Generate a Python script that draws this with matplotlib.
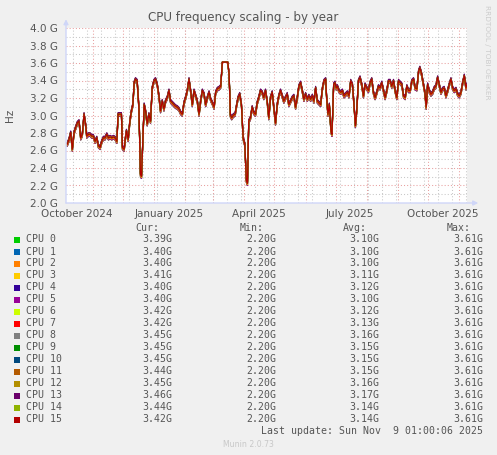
import numpy as np
import matplotlib
matplotlib.use("Agg")
import matplotlib.pyplot as plt
import matplotlib.dates as mdates
from matplotlib.patches import Rectangle
from datetime import datetime, timedelta

# ---------------- data ----------------
series_start = datetime(2024, 10, 5, 1, 0)
series_end = datetime(2025, 11, 9, 1, 0)

# days since series_start, and typical core frequency (GHz)
days = [1.3, 3, 4.7, 6.3, 8, 9.7, 11.3, 13, 14.7, 16.3, 18, 19.7, 20.7, 22.3, 24, 25.7,
        27.3, 29, 30.7, 32.3, 34, 35.7, 37.3, 39, 40.7, 42.3, 44, 45.7, 47.3, 49, 50.7,
        52, 55.3, 56.3, 58, 59.3, 60.3, 62, 63.7, 65.3, 66.7, 68, 69.3, 71, 72.7, 74.3,
        75.3, 76.7, 78, 79.3, 81, 82.7, 84.3, 86, 87.7, 89.3, 91, 92.7, 94.3, 96, 97.7,
        99.3, 101, 102.7, 104.3, 106, 107.7, 109.3, 111, 112.7, 114.3, 116, 117.7, 119.3,
        121, 122.7, 124.3, 126, 127.7, 129.3, 131, 132.7, 134.3, 136, 137.7, 139.3, 141,
        142.7, 144.3, 146, 147.7, 149.3, 151, 152.7, 154.3, 156, 161.3, 162.7, 164, 165.3,
        167, 168.7, 170.3, 171.7, 173.3, 175, 176.7, 178.3, 180, 181, 182.3, 184, 185.7,
        187.3, 189, 190.7, 192.3, 194, 195.7, 197.3, 199, 200.7, 202.3, 204, 205.7, 207.3,
        209, 210.7, 212.3, 214, 215.7, 217.3, 219, 220.7, 222.3, 224, 225.7, 227.3, 229,
        230.7, 232.3, 234, 235.7, 237.3, 239, 240.7, 242.3, 244, 245.7, 247.3, 249, 250.7,
        252.3, 254, 255.7, 257.3, 259, 260, 261.3, 262.7, 264.3, 265.3, 267, 268.3, 269.5,
        270.7, 272.3, 274, 275.7, 277.3, 279, 280.7, 282.3, 284, 285.7, 287.3, 288.7, 290,
        291.7, 293.3, 295, 296.7, 298.3, 300, 301.7, 303.3, 305, 306.7, 308.3, 310, 311.7,
        313.3, 315, 316.7, 318.3, 320, 321.7, 323.3, 325, 326.7, 328.3, 330, 331.7, 333.3,
        335, 336.7, 338.3, 340, 341.7, 343.3, 345, 346.7, 348.3, 350, 351.7, 353, 354.7,
        356.3, 358, 359.3, 360.7, 362.3, 364, 365.7, 367.3, 369, 370.7, 372.3, 374, 375.7,
        377.3, 379, 380.7, 382.3, 384, 385.7, 387.3, 389, 390.7, 392.3, 394, 395.7, 397.3,
        399, 400]
freq_ghz = [2.67, 2.72, 2.80, 2.61, 2.80, 2.86, 2.91, 2.93, 2.74, 2.78, 3.01, 2.88, 2.76,
            2.78, 2.78, 2.76, 2.76, 2.70, 2.74, 2.65, 2.63, 2.70, 2.74, 2.74, 2.78, 2.74,
            2.75, 2.74, 2.75, 2.74, 2.70, 3.01, 3.01, 2.63, 2.61, 2.74, 2.82, 2.72, 2.93,
            3.05, 3.12, 3.37, 3.41, 3.39, 3.09, 2.32, 2.30, 2.74, 3.12, 3.05, 2.90, 3.01,
            2.93, 3.31, 3.39, 3.41, 3.35, 3.22, 3.05, 3.16, 3.07, 3.16, 3.20, 3.28, 3.16,
            3.14, 3.12, 3.10, 3.09, 3.07, 3.03, 3.01, 3.14, 3.20, 3.28, 3.41, 3.28, 3.12,
            3.28, 3.22, 3.16, 3.01, 3.16, 3.28, 3.24, 3.12, 3.20, 3.26, 3.18, 3.14, 3.09,
            3.26, 3.30, 3.31, 3.33, 3.61, 3.61, 3.47, 3.00, 2.97, 3.00, 3.01, 3.12, 3.20,
            3.24, 3.12, 2.74, 2.67, 2.25, 2.22, 2.93, 2.97, 3.09, 3.03, 3.01, 3.14, 3.20,
            3.28, 3.26, 3.20, 3.28, 3.16, 2.97, 3.20, 3.26, 3.09, 2.91, 3.12, 3.22, 3.28,
            3.22, 3.16, 3.20, 3.24, 3.12, 3.16, 3.20, 3.22, 3.09, 3.20, 3.33, 3.37, 3.28,
            3.18, 3.24, 3.18, 3.22, 3.18, 3.22, 3.16, 3.31, 3.16, 3.14, 3.12, 3.30, 3.39,
            3.41, 3.20, 3.01, 3.12, 2.82, 2.78, 3.35, 3.37, 3.31, 3.33, 3.28, 3.26, 3.28,
            3.22, 3.24, 3.26, 3.22, 3.39, 3.35, 3.12, 2.88, 3.05, 3.39, 3.43, 3.35, 3.22,
            3.35, 3.31, 3.28, 3.37, 3.41, 3.26, 3.20, 3.26, 3.33, 3.31, 3.37, 3.28, 3.20,
            3.28, 3.39, 3.39, 3.33, 3.39, 3.28, 3.20, 3.39, 3.37, 3.35, 3.22, 3.20, 3.33,
            3.28, 3.28, 3.39, 3.41, 3.31, 3.30, 3.50, 3.54, 3.47, 3.37, 3.26, 3.09, 3.35,
            3.28, 3.24, 3.26, 3.31, 3.33, 3.43, 3.35, 3.26, 3.30, 3.31, 3.22, 3.28, 3.35,
            3.41, 3.31, 3.28, 3.30, 3.24, 3.22, 3.26, 3.37, 3.45, 3.31, 3.35]

cpu_names = ["CPU 0", "CPU 1", "CPU 2", "CPU 3", "CPU 4", "CPU 5", "CPU 6", "CPU 7",
             "CPU 8", "CPU 9", "CPU 10", "CPU 11", "CPU 12", "CPU 13", "CPU 14", "CPU 15"]
cpu_colors = ["#00CC00", "#0066B3", "#FF8000", "#FFCC00", "#330099", "#990099", "#CCFF00",
              "#FF0000", "#808080", "#008F00", "#00487D", "#B35A00", "#B38F00", "#6B006B",
              "#8FB300", "#B30000"]
cur_ghz = [3.39, 3.40, 3.40, 3.41, 3.40, 3.40, 3.42, 3.42, 3.45, 3.45, 3.45, 3.44, 3.45,
           3.46, 3.44, 3.42]
min_ghz = [2.20] * 16
avg_ghz = [3.10, 3.10, 3.10, 3.11, 3.12, 3.10, 3.12, 3.13, 3.16, 3.15, 3.15, 3.15, 3.16,
           3.17, 3.14, 3.14]
max_ghz = [3.61] * 16

y_ticks = [2.0, 2.2, 2.4, 2.6, 2.8, 3.0, 3.2, 3.4, 3.6, 3.8, 4.0]
y_tick_labels = ["2.0 G", "2.2 G", "2.4 G", "2.6 G", "2.8 G", "3.0 G", "3.2 G", "3.4 G",
                 "3.6 G", "3.8 G", "4.0 G"]
x_label_dates = [datetime(2024, 10, 15, 12), datetime(2025, 1, 15, 12), datetime(2025, 4, 15, 12),
                 datetime(2025, 7, 15, 12), datetime(2025, 10, 15, 12)]
x_labels = ["October 2024", "January 2025", "April 2025", "July 2025", "October 2025"]

# ---------------- figure ----------------
W, H = 497, 455
BG = "#F0F0F0"
FONT = "#555555"
AXISC = "#CFD6F8"
fig = plt.figure(figsize=(W / 100, H / 100), dpi=100, facecolor=BG)
ax = fig.add_axes([66 / W, 1 - 203 / H, 401 / W, 175 / H])
ax.set_facecolor("white")

x0 = mdates.date2num(series_start)
x1 = mdates.date2num(series_end)
ax.set_xlim(x0, x1)
ax.set_ylim(2.0, 4.0)

# grid: minor (gray) and major (red) dotted lines
dots = (0, (1, 2))
minor_col = "#C8C8C8"
major_col = "#E8A0A0"
for v in np.arange(2.1, 4.0, 0.2):
    ax.axhline(v, color=minor_col, lw=0.75, ls=dots, zorder=1)
for v in y_ticks[1:]:
    ax.axhline(v, color=major_col, lw=0.75, ls=dots, zorder=1)
d = datetime(2024, 10, 12)
while d < series_end:
    ax.axvline(mdates.date2num(d), color=minor_col, lw=0.75, ls=dots, zorder=1)
    d += timedelta(days=14)
for yy, mm in [(2024, 11), (2024, 12), (2025, 1), (2025, 2), (2025, 3), (2025, 4), (2025, 5),
               (2025, 6), (2025, 7), (2025, 8), (2025, 9), (2025, 10), (2025, 11)]:
    ax.axvline(mdates.date2num(datetime(yy, mm, 1)), color=major_col, lw=0.75, ls=dots, zorder=1)

# series: each CPU follows the common trace, shifted by its share of the average spread
xs = x0 + np.array(days)
base = np.array(freq_ghz)
avg_arr = np.array(avg_ghz)
offsets = (avg_arr - avg_arr.mean()) * 0.6
for i in range(16):
    vals = np.where(base >= max_ghz[i], base, base + offsets[i])
    vals = np.clip(vals, min_ghz[i], max_ghz[i])
    ax.plot(xs, vals, color=cpu_colors[i], lw=0.85, zorder=3)

# ticks and labels
ax.set_yticks(y_ticks)
ax.set_yticklabels(y_tick_labels)
ax.set_xticks([mdates.date2num(t) for t in x_label_dates])
ax.set_xticklabels(x_labels)
ax.tick_params(axis="both", length=0, colors=FONT, labelsize=7.5)
ax.tick_params(axis="y", pad=6)
ax.tick_params(axis="x", pad=4)
for s in ax.spines.values():
    s.set_visible(False)

# axis lines with arrows
ax.annotate("", xy=(1.028, 0), xytext=(0, 0), xycoords="axes fraction",
            arrowprops=dict(arrowstyle="-|>", color=AXISC, lw=1, mutation_scale=7,
                            shrinkA=0, shrinkB=0), annotation_clip=False, zorder=5)
ax.annotate("", xy=(0, 1.05), xytext=(0, 0), xycoords="axes fraction",
            arrowprops=dict(arrowstyle="-|>", color=AXISC, lw=1, mutation_scale=7,
                            shrinkA=0, shrinkB=0), annotation_clip=False, zorder=5)

fig.text(10 / W, 1 - 115 / H, "Hz", rotation=90, ha="center", va="center",
         color=FONT, fontsize=7.5)
fig.text(243 / W, 1 - 18 / H, "CPU frequency scaling - by year", ha="center", va="center",
         color=FONT, fontsize=8.6)
fig.text(487 / W, 1 - 52 / H, "RRDTOOL / TOBI OETIKER", rotation=270, ha="center",
         va="center", color="#CCCCCC", fontsize=5.3)

# legend table
mono = "DejaVu Sans Mono"
fs = 7.1
hy = 228.3
for label, xr in [("Cur:", 159.5), ("Min:", 263.5), ("Avg:", 366.8), ("Max:", 470.3)]:
    fig.text(xr / W, 1 - hy / H, label, ha="right", va="center", family=mono,
             fontsize=fs, color=FONT)
for i in range(16):
    y = 239.5 + 12.0 * i
    fig.patches.append(Rectangle((14 / W, 1 - (y + 3) / H), 6 / W, 6 / H,
                                 transform=fig.transFigure, facecolor=cpu_colors[i],
                                 edgecolor="none"))
    fig.text(26.5 / W, 1 - y / H, cpu_names[i], ha="left", va="center", family=mono,
             fontsize=fs, color=FONT)
    for arr, xr in [(cur_ghz, 171.8), (min_ghz, 276.0), (avg_ghz, 379.2), (max_ghz, 482.8)]:
        fig.text(xr / W, 1 - y / H, f"{arr[i]:.2f}G", ha="right", va="center",
                 family=mono, fontsize=fs, color=FONT)

fig.text(482.8 / W, 1 - 431.3 / H, "Last update: Sun Nov  9 01:00:06 2025", ha="right",
         va="center", family=mono, fontsize=fs, color=FONT)
fig.text(248 / W, 1 - 444.3 / H, "Munin 2.0.73", ha="center", va="center",
         color="#C8C8C8", fontsize=5.6)

fig.savefig("out.png", dpi=100, facecolor=BG)
